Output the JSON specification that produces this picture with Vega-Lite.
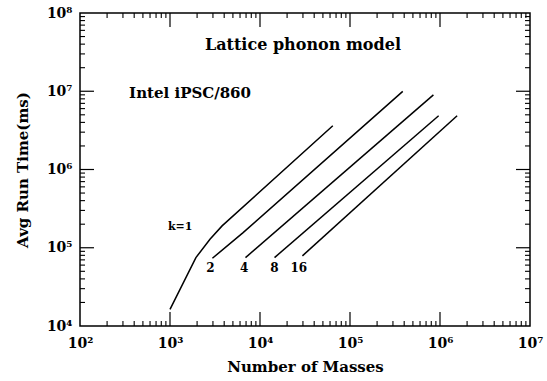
{
  "$schema": "https://vega.github.io/schema/vega-lite/v6.json",
  "width": 450,
  "height": 313,
  "autosize": "none",
  "padding": {"left": 80, "top": 13, "right": 17, "bottom": 55},
  "background": "white",
  "config": {
    "view": {"stroke": "black", "strokeWidth": 1.5},
    "font": "DejaVu Serif"
  },
  "datasets": {
    "lines": [
      {"k": "1", "n": 1000, "t": 16300},
      {"k": "1", "n": 1940, "t": 74800},
      {"k": "1", "n": 2780, "t": 128500},
      {"k": "1", "n": 3790, "t": 190200},
      {"k": "1", "n": 64400, "t": 3620000},
      {"k": "2", "n": 2960, "t": 73400},
      {"k": "2", "n": 6490, "t": 156300},
      {"k": "2", "n": 385600, "t": 9950000},
      {"k": "4", "n": 6900, "t": 74800},
      {"k": "4", "n": 845000, "t": 9000000},
      {"k": "8", "n": 14500, "t": 74800},
      {"k": "8", "n": 966000, "t": 4860000},
      {"k": "16", "n": 29600, "t": 78700},
      {"k": "16", "n": 1550000, "t": 4860000}
    ],
    "labels": [
      {"text": "Lattice phonon model", "n": 30000, "t": 39000000, "size": 16},
      {"text": "Intel iPSC/860", "n": 1670, "t": 9600000, "size": 15},
      {"text": "k=1", "n": 1297, "t": 184500, "size": 11},
      {"text": "2", "n": 2820, "t": 55700, "size": 12},
      {"text": "4", "n": 6650, "t": 55700, "size": 12},
      {"text": "8", "n": 14450, "t": 55700, "size": 12},
      {"text": "16", "n": 27000, "t": 55700, "size": 12}
    ],
    "xmajor": [{"v": 1000}, {"v": 10000}, {"v": 100000}, {"v": 1000000}],
    "xminor": [{"v":200},{"v":300},{"v":400},{"v":500},{"v":600},{"v":700},{"v":800},{"v":900},{"v":2000},{"v":3000},{"v":4000},{"v":5000},{"v":6000},{"v":7000},{"v":8000},{"v":9000},{"v":20000},{"v":30000},{"v":40000},{"v":50000},{"v":60000},{"v":70000},{"v":80000},{"v":90000},{"v":200000},{"v":300000},{"v":400000},{"v":500000},{"v":600000},{"v":700000},{"v":800000},{"v":900000},{"v":2000000},{"v":3000000},{"v":4000000},{"v":5000000},{"v":6000000},{"v":7000000},{"v":8000000},{"v":9000000}],
    "ymajor": [{"v": 100000}, {"v": 1000000}, {"v": 10000000}],
    "yminor": [{"v":20000},{"v":30000},{"v":40000},{"v":50000},{"v":60000},{"v":70000},{"v":80000},{"v":90000},{"v":200000},{"v":300000},{"v":400000},{"v":500000},{"v":600000},{"v":700000},{"v":800000},{"v":900000},{"v":2000000},{"v":3000000},{"v":4000000},{"v":5000000},{"v":6000000},{"v":7000000},{"v":8000000},{"v":9000000},{"v":20000000},{"v":30000000},{"v":40000000},{"v":50000000},{"v":60000000},{"v":70000000},{"v":80000000},{"v":90000000}]
  },
  "layer": [
    {
      "data": {"name": "lines"},
      "mark": {"type": "line", "color": "black", "strokeWidth": 1.5},
      "encoding": {
        "x": {
          "field": "n", "type": "quantitative",
          "scale": {"type": "log", "domain": [100, 10000000], "nice": false},
          "axis": {
            "orient": "bottom",
            "title": "Number of Masses",
            "titleFont": "DejaVu Serif", "titleFontSize": 15, "titleFontWeight": "bold", "titleColor": "black",
            "titlePadding": 9,
            "values": [100, 1000, 10000, 100000, 1000000, 10000000],
            "labelExpr": "'10' + ['⁰','¹','²','³','⁴','⁵','⁶','⁷','⁸','⁹'][round(log(datum.value)/LN10)]",
            "labelFont": "DejaVu Serif", "labelFontSize": 14, "labelFontWeight": "bold", "labelColor": "black",
            "labelFlush": false, "labelOverlap": false, "labelPadding": 10,
            "ticks": false, "domain": false, "grid": false
          }
        },
        "y": {
          "field": "t", "type": "quantitative",
          "scale": {"type": "log", "domain": [10000, 100000000], "nice": false},
          "axis": {
            "orient": "left",
            "title": "Avg Run Time(ms)",
            "titleFont": "DejaVu Serif", "titleFontSize": 15, "titleFontWeight": "bold", "titleColor": "black",
            "titlePadding": 16,
            "values": [10000, 100000, 1000000, 10000000, 100000000],
            "labelExpr": "'10' + ['⁰','¹','²','³','⁴','⁵','⁶','⁷','⁸','⁹'][round(log(datum.value)/LN10)]",
            "labelFont": "DejaVu Serif", "labelFontSize": 14, "labelFontWeight": "bold", "labelColor": "black",
            "labelFlush": false, "labelOverlap": false, "labelPadding": 8,
            "ticks": false, "domain": false, "grid": false
          }
        },
        "detail": {"field": "k", "type": "nominal"}
      }
    },
    {
      "data": {"name": "labels"},
      "mark": {"type": "text", "color": "black", "font": "DejaVu Serif", "fontWeight": "bold", "baseline": "middle", "align": "center"},
      "encoding": {
        "x": {"field": "n", "type": "quantitative", "axis": null},
        "y": {"field": "t", "type": "quantitative", "axis": null},
        "text": {"field": "text", "type": "nominal"},
        "size": {"field": "size", "type": "quantitative", "scale": null}
      }
    },
    {
      "data": {"name": "xmajor"},
      "mark": {"type": "rule", "color": "black", "strokeWidth": 1.2},
      "encoding": {"x": {"field": "v", "type": "quantitative", "axis": null}, "y": {"datum": 10000, "type": "quantitative", "axis": null}, "y2": {"datum": 15100}}
    },
    {
      "data": {"name": "xmajor"},
      "mark": {"type": "rule", "color": "black", "strokeWidth": 1.2},
      "encoding": {"x": {"field": "v", "type": "quantitative", "axis": null}, "y": {"datum": 100000000, "type": "quantitative", "axis": null}, "y2": {"datum": 66200000}}
    },
    {
      "data": {"name": "xminor"},
      "mark": {"type": "rule", "color": "black", "strokeWidth": 1.1},
      "encoding": {"x": {"field": "v", "type": "quantitative", "axis": null}, "y": {"datum": 10000, "type": "quantitative", "axis": null}, "y2": {"datum": 11580}}
    },
    {
      "data": {"name": "xminor"},
      "mark": {"type": "rule", "color": "black", "strokeWidth": 1.1},
      "encoding": {"x": {"field": "v", "type": "quantitative", "axis": null}, "y": {"datum": 100000000, "type": "quantitative", "axis": null}, "y2": {"datum": 86400000}}
    },
    {
      "data": {"name": "ymajor"},
      "mark": {"type": "rule", "color": "black", "strokeWidth": 1.2},
      "encoding": {"y": {"field": "v", "type": "quantitative", "axis": null}, "x": {"datum": 100, "type": "quantitative", "axis": null}, "x2": {"datum": 143}}
    },
    {
      "data": {"name": "ymajor"},
      "mark": {"type": "rule", "color": "black", "strokeWidth": 1.2},
      "encoding": {"y": {"field": "v", "type": "quantitative", "axis": null}, "x": {"datum": 10000000, "type": "quantitative", "axis": null}, "x2": {"datum": 6990000}}
    },
    {
      "data": {"name": "yminor"},
      "mark": {"type": "rule", "color": "black", "strokeWidth": 1.1},
      "encoding": {"y": {"field": "v", "type": "quantitative", "axis": null}, "x": {"datum": 100, "type": "quantitative", "axis": null}, "x2": {"datum": 113.7}}
    },
    {
      "data": {"name": "yminor"},
      "mark": {"type": "rule", "color": "black", "strokeWidth": 1.1},
      "encoding": {"y": {"field": "v", "type": "quantitative", "axis": null}, "x": {"datum": 10000000, "type": "quantitative", "axis": null}, "x2": {"datum": 8800000}}
    }
  ],
  "resolve": {"axis": {"x": "independent", "y": "independent"}}
}
